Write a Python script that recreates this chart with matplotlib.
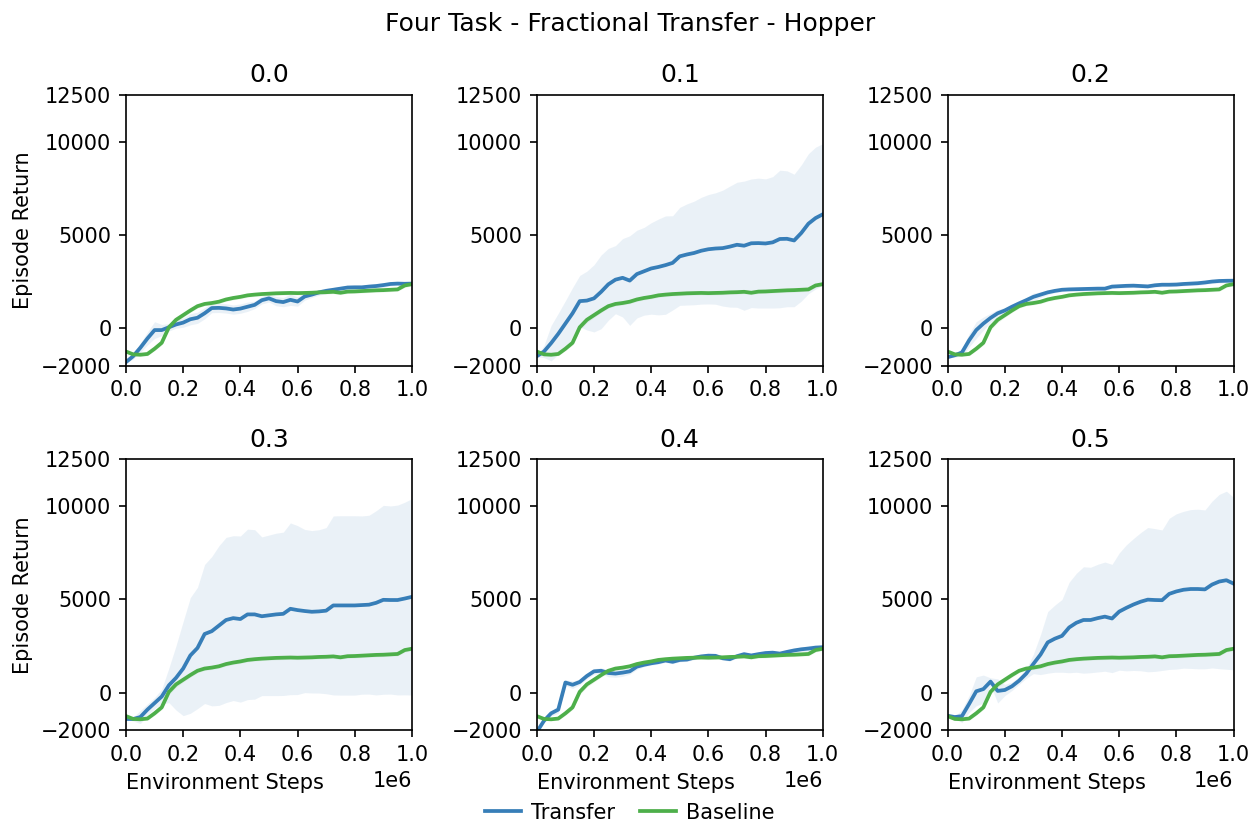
import numpy as np
import matplotlib
matplotlib.use("Agg")
import matplotlib.pyplot as plt

# environment steps, one eval every 25k steps
steps = np.arange(41) * 25000

fractions = ["0.0", "0.1", "0.2", "0.3", "0.4", "0.5"]

baseline_mean = [-1250, -1400, -1420, -1380, -1100, -780, 50, 450, 700, 950,
                 1180, 1300, 1350, 1420, 1540, 1620, 1680, 1760, 1800, 1830,
                 1850, 1870, 1880, 1890, 1880, 1890, 1900, 1920, 1930, 1950,
                 1900, 1960, 1970, 1990, 2010, 2030, 2040, 2060, 2080, 2290, 2360]
baseline_std = [60, 80, 80, 90, 100, 120, 150, 150, 120, 110,
                100, 100, 100, 100, 100, 100, 100, 100, 100, 100,
                100, 100, 100, 100, 100, 100, 100, 100, 100, 100,
                100, 100, 100, 100, 100, 100, 100, 100, 100, 100, 100]

transfer_mean = {
    "0.0": [-1815, -1500, -1050, -550, -100, -100, 50, 200, 300, 480,
            560, 800, 1080, 1090, 1060, 1000, 1050, 1150, 1250, 1500,
            1600, 1450, 1400, 1520, 1430, 1700, 1800, 1920, 2000, 2060,
            2120, 2180, 2190, 2190, 2230, 2260, 2310, 2370, 2390, 2380, 2390],
    "0.1": [-1500, -1250, -800, -300, 250, 800, 1450, 1480, 1600, 1950,
            2350, 2600, 2700, 2550, 2900, 3050, 3200, 3280, 3380, 3500,
            3850, 3950, 4030, 4150, 4230, 4270, 4290, 4370, 4470, 4420,
            4550, 4560, 4540, 4600, 4780, 4790, 4700, 5100, 5600, 5900, 6100],
    "0.2": [-1550, -1450, -1300, -650, -100, 250, 550, 800, 950, 1150,
            1330, 1500, 1680, 1800, 1920, 2000, 2060, 2080, 2090, 2100,
            2110, 2120, 2120, 2230, 2250, 2270, 2280, 2260, 2240, 2300,
            2330, 2330, 2340, 2370, 2390, 2410, 2450, 2500, 2530, 2540, 2545],
    "0.3": [-1405, -1405, -1300, -900, -550, -200, 400, 800, 1300, 2000,
            2400, 3150, 3300, 3600, 3900, 4000, 3950, 4200, 4200, 4100,
            4150, 4200, 4230, 4500, 4430, 4380, 4340, 4360, 4400, 4680,
            4680, 4680, 4680, 4700, 4720, 4820, 4980, 4970, 4970, 5050, 5140],
    "0.4": [-2100, -1500, -1100, -900, 550, 430, 580, 900, 1150, 1180,
            1060, 1030, 1080, 1150, 1400, 1500, 1580, 1640, 1730, 1660,
            1760, 1780, 1880, 1950, 1990, 1980, 1850, 1800, 1960, 2070,
            2000, 2070, 2130, 2150, 2100, 2190, 2270, 2330, 2370, 2420, 2440],
    "0.5": [-1230, -1300, -1250, -600, 80, 200, 600, 100, 150, 350,
            650, 1030, 1550, 2050, 2700, 2900, 3050, 3500, 3750, 3900,
            3900, 4000, 4080, 3980, 4350, 4550, 4730, 4880, 4990, 4970,
            4960, 5300, 5430, 5520, 5560, 5560, 5540, 5800, 5960, 6030, 5850],
}

transfer_std = {
    "0.0": [50, 150, 250, 350, 450, 300, 200, 200, 250, 300,
            300, 300, 250, 250, 250, 250, 250, 250, 200, 200,
            200, 250, 250, 300, 250, 200, 150, 150, 150, 120,
            120, 120, 120, 120, 120, 120, 120, 100, 100, 100, 100],
    "0.1": [30, 325, 950, 1100, 1225, 1375, 1375, 1575, 1800, 1975,
            1925, 1825, 2100, 2400, 2350, 2350, 2450, 2565, 2635, 2525,
            2625, 2710, 2775, 2860, 2930, 2985, 3105, 3240, 3350, 3460,
            3445, 3480, 3460, 3520, 3685, 3640, 3550, 3650, 3750, 3800, 3785],
    "0.2": [50, 100, 200, 350, 450, 350, 250, 200, 150, 150,
            150, 150, 200, 150, 120, 100, 100, 100, 100, 100,
            100, 100, 100, 100, 100, 100, 100, 100, 100, 100,
            100, 100, 100, 100, 100, 100, 100, 100, 100, 100, 100],
    "0.3": [30, 100, 350, 300, 300, 400, 925, 1725, 2525, 3100,
            3250, 3725, 4000, 4275, 4425, 4415, 4450, 4565, 4540, 4250,
            4300, 4350, 4375, 4600, 4525, 4370, 4350, 4375, 4450, 4795,
            4805, 4805, 4805, 4775, 4790, 4935, 5060, 5040, 5085, 5160, 5260],
    "0.4": [50, 100, 150, 200, 150, 200, 150, 150, 150, 150,
            200, 200, 200, 150, 150, 100, 100, 100, 100, 100,
            100, 100, 100, 100, 100, 100, 100, 100, 100, 100,
            100, 100, 100, 100, 100, 100, 120, 120, 150, 150, 150],
    "0.5": [30, 50, 350, 450, 775, 750, 200, 650, 300, 225,
            200, 250, 525, 1075, 1650, 1800, 1950, 2425, 2650, 2850,
            2825, 2885, 2925, 2900, 3140, 3375, 3535, 3700, 3865, 3825,
            3765, 4050, 4160, 4200, 4255, 4275, 4255, 4470, 4670, 4770, 4620],
}

blue = "#377eb8"
green = "#4daf4a"

fig, axes = plt.subplots(2, 3, figsize=(8.4, 5.5), dpi=150)
fig.subplots_adjust(left=0.1, right=0.979, top=0.885, bottom=0.115,
                    wspace=0.437, hspace=0.347)

bm = np.array(baseline_mean)
bs = np.array(baseline_std)

for i, (ax, frac) in enumerate(zip(axes.flat, fractions)):
    tm = np.array(transfer_mean[frac])
    ts = np.array(transfer_std[frac])
    ax.fill_between(steps, tm - ts, tm + ts, color=blue, alpha=0.1, lw=0)
    ax.fill_between(steps, bm - bs, bm + bs, color=green, alpha=0.1, lw=0)
    ax.plot(steps, tm, color=blue, lw=1.8, label="Transfer")
    ax.plot(steps, bm, color=green, lw=1.8, label="Baseline")
    ax.set_title(frac)
    ax.set_xlim(0, 1e6)
    ax.set_xticks(np.linspace(0, 1e6, 6))
    ax.set_ylim(-2000, 12500)
    ax.set_yticks([-2000, 0, 5000, 10000, 12500])
    if i % 3 == 0:
        ax.set_ylabel("Episode Return")
    if i >= 3:
        ax.set_xlabel("Environment Steps", loc="left")
    else:
        ax.xaxis.get_offset_text().set_visible(False)

fig.suptitle("Four Task - Fractional Transfer - Hopper", y=0.985)
handles, labels = axes[0, 0].get_legend_handles_labels()
fig.legend(handles, labels, loc="lower center", ncol=2, frameon=False,
           bbox_to_anchor=(0.5, -0.02), handlelength=1.7,
           handletextpad=0.5, columnspacing=1.2)

fig.savefig("out.png", dpi=150)
